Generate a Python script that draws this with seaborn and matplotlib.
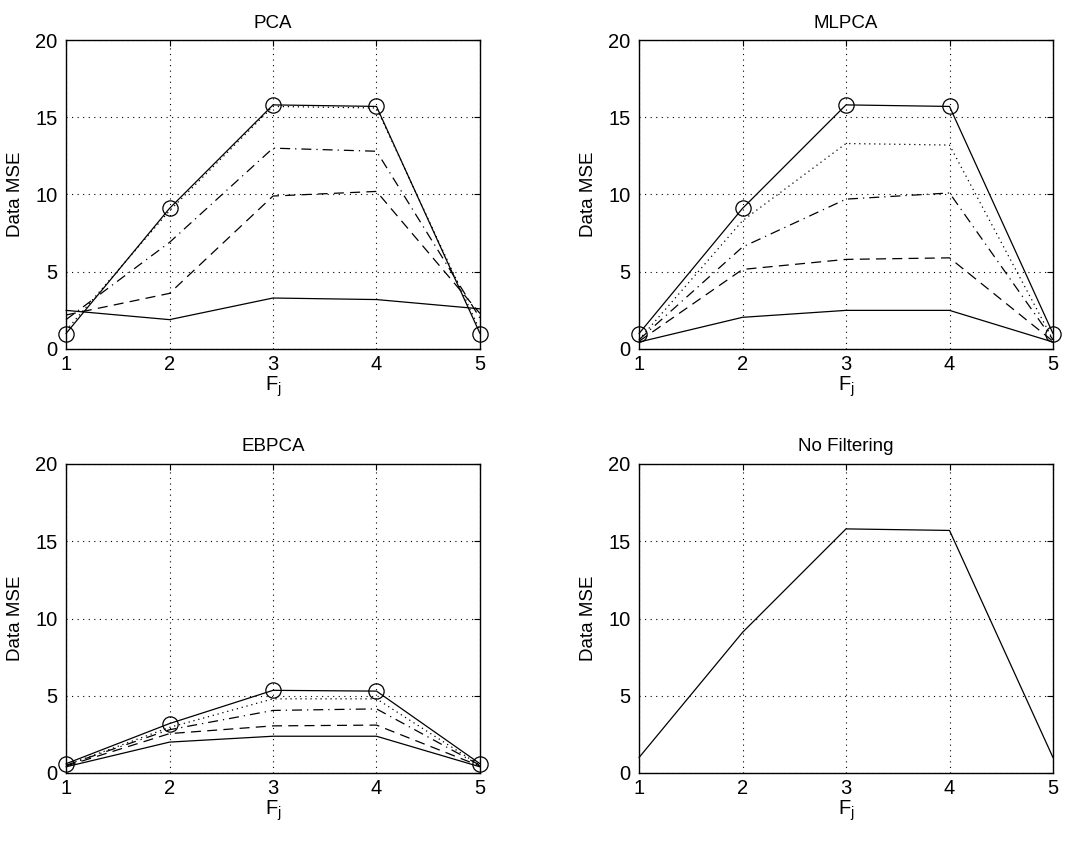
import matplotlib
matplotlib.use("Agg")
import matplotlib.pyplot as plt
import seaborn as sns
import pandas as pd

sns.set_theme(style="white")
plt.rcParams['font.family'] = ['Liberation Sans', 'DejaVu Sans']
plt.rcParams['mathtext.fontset'] = 'custom'
plt.rcParams['mathtext.rm'] = 'Liberation Sans'
plt.rcParams['mathtext.it'] = 'Liberation Sans'
plt.rcParams['text.color'] = 'black'
plt.rcParams['axes.labelcolor'] = 'black'
plt.rcParams['xtick.color'] = 'black'
plt.rcParams['ytick.color'] = 'black'

fj = [1, 2, 3, 4, 5]
no_filter = [1.0, 9.1, 15.8, 15.7, 1.0]

pca_dotted = [1.2, 8.95, 15.7, 15.6, 1.2]
pca_dashdot = [1.9, 6.9, 13.0, 12.8, 2.0]
pca_dashed = [2.2, 3.6, 9.9, 10.2, 2.3]
pca_solid = [2.5, 1.9, 3.3, 3.2, 2.6]

mlpca_dotted = [0.6, 8.3, 13.3, 13.2, 0.6]
mlpca_dashdot = [0.6, 6.6, 9.7, 10.1, 0.6]
mlpca_dashed = [0.5, 5.15, 5.8, 5.9, 0.5]
mlpca_solid = [0.45, 2.05, 2.5, 2.5, 0.45]

ebpca_circles = [0.6, 3.2, 5.35, 5.3, 0.6]
ebpca_dotted = [0.5, 2.95, 4.8, 4.8, 0.5]
ebpca_dashdot = [0.5, 2.8, 4.05, 4.15, 0.5]
ebpca_dashed = [0.45, 2.55, 3.05, 3.1, 0.45]
ebpca_solid = [0.4, 2.0, 2.38, 2.38, 0.4]

titles = ["PCA", "MLPCA", "EBPCA", "No Filtering"]
ytick_vals = [0, 5, 10, 15, 20]

fig = plt.figure(figsize=(10.65, 8.42), dpi=100)
positions = [
    [66 / 1065, 1 - 349 / 842, 414 / 1065, 309 / 842],
    [639 / 1065, 1 - 349 / 842, 414 / 1065, 309 / 842],
    [66 / 1065, 1 - 773 / 842, 414 / 1065, 309 / 842],
    [639 / 1065, 1 - 773 / 842, 414 / 1065, 309 / 842],
]

lw = 0.9
styles = {
    'dotted': dict(linestyle=(0, (1, 3))),
    'dashdot': dict(linestyle=(0, (8, 4, 1, 4))),
    'dashed': dict(linestyle=(0, (8, 5))),
    'solid': dict(linestyle='-'),
}


def draw(ax, y, style, marker=None):
    df = pd.DataFrame({'x': fj, 'y': y})
    kw = dict(styles[style])
    if marker:
        kw.update(marker='o', markersize=11, markerfacecolor='none',
                  markeredgecolor='black', markeredgewidth=0.9)
    sns.lineplot(data=df, x='x', y='y', ax=ax, color='black', linewidth=lw,
                 clip_on=False, **kw)


panels = [
    [(pca_dotted, 'dotted'), (pca_dashdot, 'dashdot'), (pca_dashed, 'dashed'),
     (pca_solid, 'solid'), (no_filter, 'solid', True)],
    [(mlpca_dotted, 'dotted'), (mlpca_dashdot, 'dashdot'), (mlpca_dashed, 'dashed'),
     (mlpca_solid, 'solid'), (no_filter, 'solid', True)],
    [(ebpca_dotted, 'dotted'), (ebpca_dashdot, 'dashdot'), (ebpca_dashed, 'dashed'),
     (ebpca_solid, 'solid'), (ebpca_circles, 'solid', True)],
    [(no_filter, 'solid')],
]

for i in range(4):
    ax = fig.add_axes(positions[i])
    for entry in panels[i]:
        draw(ax, *entry)
    ax.set_xlim(1, 5)
    ax.set_ylim(0, 20)
    ax.set_xticks(fj)
    ax.set_yticks(ytick_vals)
    ax.set_xticklabels([str(v) for v in fj])
    ax.set_yticklabels([str(v) for v in ytick_vals])
    ax.grid(True, color='black', linestyle=(0, (1, 4)), linewidth=0.8)
    ax.tick_params(axis='both', direction='in', length=4, width=0.8,
                   top=True, right=True, labelsize=14.5, colors='black')
    ax.tick_params(axis='x', pad=4)
    ax.tick_params(axis='y', pad=6)
    for s in ax.spines.values():
        s.set_visible(True)
        s.set_color('black')
        s.set_linewidth(1.0)
    ax.set_title(titles[i], fontsize=13.5, pad=9, color='black')
    ax.set_xlabel(r'$\mathregular{F_j}$', fontsize=14.5, labelpad=1, color='black')
    ax.set_ylabel('Data MSE', fontsize=13.5, labelpad=8, color='black')

fig.savefig('out.png', dpi=100, facecolor='white')
